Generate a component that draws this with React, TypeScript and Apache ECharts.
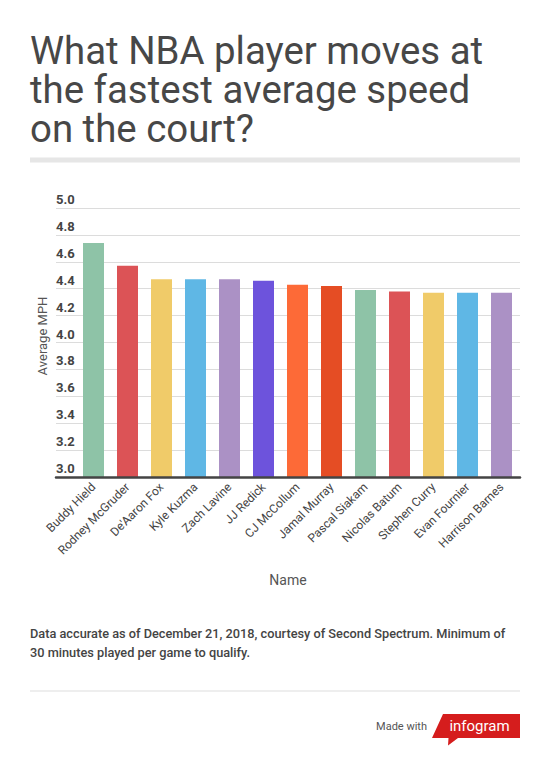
import React, { useEffect, useRef } from "react";
import * as echarts from "echarts";

const titleLines = ["What NBA player moves at", "the fastest average speed", "on the court?"];
const names = [
  "Buddy Hield",
  "Rodney McGruder",
  "De'Aaron Fox",
  "Kyle Kuzma",
  "Zach Lavine",
  "JJ Redick",
  "CJ McCollum",
  "Jamal Murray",
  "Pascal Siakam",
  "Nicolas Batum",
  "Stephen Curry",
  "Evan Fournier",
  "Harrison Barnes",
];
const values = [4.74, 4.57, 4.47, 4.47, 4.47, 4.46, 4.43, 4.42, 4.39, 4.38, 4.37, 4.37, 4.37];
const palette = ["#8ec3a7", "#dc5356", "#f0cb69", "#5fb7e5", "#ab91c5", "#6d53dc", "#fd6a37", "#e54d24"];
const yMin = 3;
const yMax = 5;
const yStep = 0.2;
const yAxisTitle = "Average MPH";
const xAxisTitle = "Name";
const footnote = [
  "Data accurate as of December 21, 2018, courtesy of Second Spectrum. Minimum of",
  "30 minutes played per game to qualify.",
];

export default function App() {
  const ref = useRef<HTMLDivElement>(null);
  useEffect(() => {
    if (!ref.current) return;
    const chart = echarts.init(ref.current, null, { renderer: "svg" });
    const font = "Roboto, 'Noto Sans', sans-serif";
    chart.setOption({
      animation: false,
      backgroundColor: "#ffffff",
      textStyle: { fontFamily: font },
      grid: [
        { left: 76.5, right: 31.5, top: 208, bottom: 292 },
        { left: 56, right: 30, top: 208, bottom: 292 },
      ],
      xAxis: [
        {
          type: "category",
          gridIndex: 0,
          data: names,
          axisLine: { show: false },
          axisTick: { show: false },
          axisLabel: {
            rotate: 45,
            interval: 0,
            margin: 8,
            color: "#444",
            fontSize: 12,
            fontFamily: font,
          },
        },
        {
          type: "value",
          gridIndex: 1,
          min: 0,
          max: 1,
          z: 5,
          axisLine: { show: true, lineStyle: { color: "#444", width: 2.5 } },
          axisTick: { show: false },
          axisLabel: { show: false },
          splitLine: { show: false },
        },
      ],
      yAxis: [
        { type: "value", gridIndex: 0, min: yMin, max: yMax, show: false },
        {
          type: "value",
          gridIndex: 1,
          min: yMin,
          max: yMax,
          interval: yStep,
          axisLine: { show: false },
          axisTick: { show: false },
          splitLine: { lineStyle: { color: "#dcdcdc", width: 1 } },
          axisLabel: {
            inside: true,
            margin: 0,
            verticalAlign: "bottom",
            padding: [0, 0, 2, 0],
            color: "#444",
            fontSize: 13,
            fontWeight: "bold",
            fontFamily: font,
            formatter: (v: number) => v.toFixed(1),
          },
        },
      ],
      series: [
        {
          type: "bar",
          xAxisIndex: 0,
          yAxisIndex: 0,
          barWidth: 21,
          data: values.map((v, i) => ({ value: v, itemStyle: { color: palette[i % palette.length] } })),
        },
      ],
      graphic: [
        {
          type: "text",
          left: 30,
          top: 31,
          style: { text: titleLines.join("\n"), fontSize: 38.4, lineHeight: 39, fontFamily: font, fill: "#474747" },
        },
        { type: "rect", shape: { x: 30, y: 157.5, width: 490, height: 5 }, style: { fill: "#e6e6e6" } },
        {
          type: "text",
          x: 42,
          y: 336,
          rotation: Math.PI / 2,
          style: {
            text: yAxisTitle,
            fontSize: 13,
            fontFamily: font,
            fill: "#555",
            align: "center",
            verticalAlign: "middle",
          },
        },
        {
          type: "text",
          x: 288,
          y: 580,
          style: { text: xAxisTitle, fontSize: 14, fontFamily: font, fill: "#555", align: "center", verticalAlign: "middle" },
        },
        {
          type: "text",
          x: 30,
          y: 623.5,
          style: {
            text: footnote.join("\n"),
            fontSize: 12.75,
            lineHeight: 19,
            fontWeight: 500,
            fontFamily: font,
            fill: "#444",
          },
        },
        { type: "rect", shape: { x: 30, y: 690.5, width: 490, height: 1 }, style: { fill: "#dddddd" } },
        {
          type: "text",
          x: 427,
          y: 726,
          style: { text: "Made with", fontSize: 11, fontFamily: font, fill: "#555", align: "right", verticalAlign: "middle" },
        },
        {
          type: "polygon",
          shape: {
            points: [
              [443, 714],
              [520, 714],
              [520, 738],
              [458, 738],
              [448, 745.5],
              [448.5, 738],
              [432, 738],
            ],
          },
          style: { fill: "#d51d1d" },
        },
        {
          type: "text",
          x: 479.5,
          y: 725.5,
          style: { text: "infogram", fontSize: 15, fontFamily: font, fill: "#ffffff", align: "center", verticalAlign: "middle" },
        },
      ],
    });
    return () => chart.dispose();
  }, []);
  return <div ref={ref} style={{ position: "fixed", left: 0, top: 0, width: 550, height: 769 }} />;
}
